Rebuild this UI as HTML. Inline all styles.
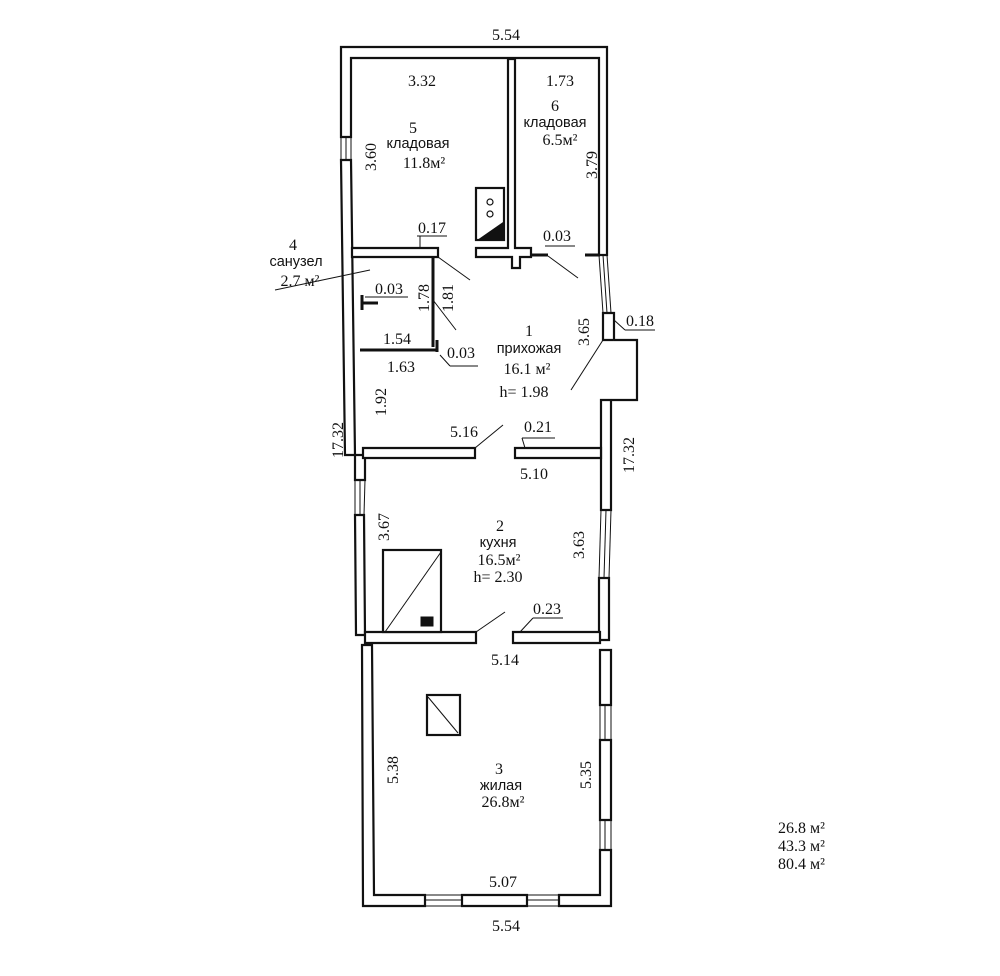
<!DOCTYPE html>
<html><head><meta charset="utf-8"><style>
body{margin:0;background:#fff;}
svg{display:block}
text{font-family:"Liberation Serif",serif;font-size:16px;fill:#111;}
.s{font-family:"Liberation Sans",sans-serif;font-size:14.5px;}
</style></head><body>
<svg width="1000" height="976" viewBox="0 0 1000 976">
<g fill="#fff" stroke="#111" stroke-width="2.2">
<path d="M341,47 L607,47 L607,255 L599,255 L599,58 L351,58 L351,137 L341,137 Z"/>
<path d="M341,160 L351,160 L355,455 L345,455 Z"/>
<path d="M355,455 L365,455 L365,480 L355,480 Z"/>
<path d="M355,515 L364,515 L365,635 L356,635 Z"/>
<path d="M362,645 L372,645 L374,895 L425,895 L425,906 L363,906 Z"/>
<path d="M462,895 L527,895 L527,906 L462,906 Z"/>
<path d="M559,895 L600,895 L600,850 L611,850 L611,906 L559,906 Z"/>
<path d="M603,313 L614,313 L614,340 L603,340 Z"/>
<path d="M601,400 L611,400 L611,510 L601,510 Z"/>
<path d="M599,578 L609,578 L609,640 L599,640 Z"/>
<path d="M600,650 L611,650 L611,705 L600,705 Z"/>
<path d="M600,740 L611,740 L611,820 L600,820 Z"/>
<path d="M363,448 L475,448 L475,458 L363,458 Z"/>
<path d="M515,448 L601,448 L601,458 L515,458 Z"/>
<path d="M365,632 L476,632 L476,643 L365,643 Z"/>
<path d="M513,632 L600,632 L600,643 L513,643 Z"/>
<path d="M352,248 L438,248 L438,257 L352,257 Z"/>
<path d="M508,59 L515,59 L515,248 L531,248 L531,257 L520,257 L520,268 L512,268 L512,257 L476,257 L476,248 L508,248 Z"/>
<rect x="476" y="188" width="28" height="52"/>
<rect x="383" y="550" width="58" height="82"/>
<rect x="427" y="695" width="33" height="40"/>
<path d="M614,340 L637,340 L637,400 L611,400"/>
</g>
<g stroke="#111" fill="none">
<path d="M478,240 L504,222 L504,240 Z" fill="#111"/>
<circle cx="490" cy="202" r="3" stroke-width="1.2"/>
<circle cx="490" cy="214" r="3" stroke-width="1.2"/>
<line x1="385" y1="632" x2="441" y2="552" stroke-width="1"/>
<rect x="421" y="617" width="12" height="9" fill="#111"/>
<line x1="428" y1="697" x2="458" y2="733" stroke-width="1"/>
<g stroke-width="1">
<line x1="341" y1="137" x2="341" y2="160"/><line x1="351" y1="137" x2="351" y2="160"/><line x1="346" y1="137" x2="346" y2="160"/>
<line x1="355" y1="480" x2="355" y2="515"/><line x1="365" y1="480" x2="364" y2="515"/><line x1="360" y1="480" x2="360" y2="515"/>
<line x1="599" y1="255" x2="603" y2="313"/><line x1="607" y1="255" x2="611" y2="313"/><line x1="603" y1="255" x2="607" y2="313"/>
<line x1="601" y1="510" x2="599" y2="578"/><line x1="611" y1="510" x2="609" y2="578"/><line x1="606" y1="510" x2="604" y2="578"/>
<line x1="600" y1="705" x2="600" y2="740"/><line x1="611" y1="705" x2="611" y2="740"/><line x1="605" y1="705" x2="605" y2="740"/>
<line x1="600" y1="820" x2="600" y2="850"/><line x1="611" y1="820" x2="611" y2="850"/><line x1="605" y1="820" x2="605" y2="850"/>
<line x1="425" y1="895" x2="462" y2="895"/><line x1="425" y1="906" x2="462" y2="906"/><line x1="425" y1="900" x2="462" y2="900"/>
<line x1="527" y1="895" x2="559" y2="895"/><line x1="527" y1="906" x2="559" y2="906"/><line x1="527" y1="900" x2="559" y2="900"/>
<line x1="438" y1="257" x2="470" y2="280"/>
<line x1="548" y1="256" x2="578" y2="278"/>
<line x1="433" y1="300" x2="456" y2="330"/>
<line x1="603" y1="340" x2="571" y2="390"/>
<line x1="475" y1="448" x2="503" y2="425"/>
<line x1="476" y1="632" x2="505" y2="612"/>
<line x1="275" y1="290" x2="370" y2="270"/>
<line x1="365" y1="297" x2="408" y2="297"/>
<line x1="440" y1="355" x2="450" y2="366"/><line x1="450" y1="366" x2="478" y2="366"/>
<line x1="417" y1="236" x2="447" y2="236"/><line x1="420" y1="236" x2="420" y2="248"/>
<line x1="545" y1="246" x2="575" y2="246"/>
<line x1="614" y1="320" x2="625" y2="330"/><line x1="625" y1="330" x2="655" y2="330"/>
<line x1="522" y1="438" x2="555" y2="438"/><line x1="522" y1="438" x2="525" y2="448"/>
<line x1="520" y1="632" x2="533" y2="618"/><line x1="533" y1="618" x2="563" y2="618"/>
</g>
<g stroke-width="3">
<line x1="433" y1="258" x2="433" y2="347"/>
<line x1="360" y1="350" x2="437" y2="350"/>
<line x1="437" y1="340" x2="437" y2="352"/>
<line x1="362" y1="303" x2="378" y2="303"/>
<line x1="362" y1="295" x2="362" y2="310"/>
<line x1="531" y1="255" x2="548" y2="255"/>
<line x1="585" y1="255" x2="600" y2="255"/>
</g>
</g>
<g text-anchor="middle">
<text x="506" y="40">5.54</text>
<text x="422" y="86">3.32</text>
<text x="560" y="86">1.73</text>
<text x="413" y="133">5</text>
<text x="418" y="148" class="s">кладовая</text>
<text x="424" y="168">11.8м²</text>
<text x="555" y="111">6</text>
<text x="555" y="127" class="s">кладовая</text>
<text x="560" y="145">6.5м²</text>
<text x="432" y="233">0.17</text>
<text x="557" y="241">0.03</text>
<text x="293" y="250">4</text>
<text x="296" y="266" class="s">санузел</text>
<text x="300" y="286">2.7 м²</text>
<text x="389" y="294">0.03</text>
<text x="397" y="344">1.54</text>
<text x="401" y="372">1.63</text>
<text x="461" y="358">0.03</text>
<text x="529" y="336">1</text>
<text x="529" y="353" class="s">прихожая</text>
<text x="527" y="374">16.1 м²</text>
<text x="524" y="397">h= 1.98</text>
<text x="640" y="326">0.18</text>
<text x="464" y="437">5.16</text>
<text x="538" y="432">0.21</text>
<text x="534" y="479">5.10</text>
<text x="500" y="531">2</text>
<text x="498" y="547" class="s">кухня</text>
<text x="499" y="565">16.5м²</text>
<text x="498" y="582">h= 2.30</text>
<text x="547" y="614">0.23</text>
<text x="505" y="665">5.14</text>
<text x="499" y="774">3</text>
<text x="501" y="790" class="s">жилая</text>
<text x="503" y="807">26.8м²</text>
<text x="503" y="887">5.07</text>
<text x="506" y="931">5.54</text>
</g>
<g text-anchor="middle">
<text transform="translate(376,157) rotate(-90)">3.60</text>
<text transform="translate(597,165) rotate(-90)">3.79</text>
<text transform="translate(429,298) rotate(-90)">1.78</text>
<text transform="translate(453,298) rotate(-90)">1.81</text>
<text transform="translate(589,332) rotate(-90)">3.65</text>
<text transform="translate(386,402) rotate(-90)">1.92</text>
<text transform="translate(343,440) rotate(-90)">17.32</text>
<text transform="translate(634,455) rotate(-90)">17.32</text>
<text transform="translate(389,527) rotate(-90)">3.67</text>
<text transform="translate(584,545) rotate(-90)">3.63</text>
<text transform="translate(398,770) rotate(-90)">5.38</text>
<text transform="translate(591,775) rotate(-90)">5.35</text>
</g>
<text x="778" y="833">26.8  м²</text>
<text x="778" y="851">43.3  м²</text>
<text x="778" y="869">80.4  м²</text>
</svg>
</body></html>
